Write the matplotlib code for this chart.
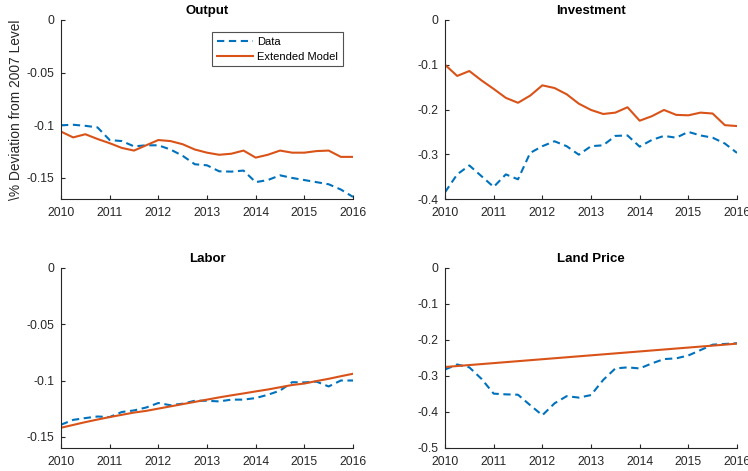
import numpy as np
import matplotlib.pyplot as plt
from matplotlib.ticker import FuncFormatter

plt.rcParams['font.family'] = ['Liberation Sans', 'DejaVu Sans']

# quarterly dates 2010Q1..2016Q1
quarters = [2010 + 0.25 * i for i in range(25)]
years = [2010, 2011, 2012, 2013, 2014, 2015, 2016]

output_data = [-0.100, -0.0995, -0.1005, -0.102, -0.114, -0.115, -0.120, -0.119, -0.119,
               -0.123, -0.129, -0.137, -0.138, -0.1437, -0.144, -0.143, -0.154, -0.152,
               -0.1475, -0.150, -0.152, -0.154, -0.156, -0.161, -0.168]
output_model = [-0.106, -0.1115, -0.1085, -0.113, -0.117, -0.1215, -0.124, -0.119, -0.114,
                -0.115, -0.118, -0.123, -0.126, -0.128, -0.127, -0.124, -0.1307, -0.128,
                -0.124, -0.126, -0.126, -0.1245, -0.124, -0.130, -0.130]

invest_data = [-0.385, -0.345, -0.325, -0.349, -0.373, -0.345, -0.356, -0.297, -0.282,
               -0.271, -0.282, -0.301, -0.282, -0.280, -0.259, -0.258, -0.283, -0.268,
               -0.259, -0.263, -0.250, -0.258, -0.263, -0.276, -0.297]
invest_model = [-0.100, -0.125, -0.114, -0.135, -0.154, -0.174, -0.185, -0.169, -0.146,
                -0.152, -0.166, -0.187, -0.201, -0.210, -0.207, -0.195, -0.225, -0.215,
                -0.201, -0.212, -0.213, -0.207, -0.209, -0.235, -0.237]

labor_data = [-0.1393, -0.135, -0.1334, -0.132, -0.1325, -0.128, -0.1266, -0.124, -0.120,
              -0.122, -0.1206, -0.118, -0.118, -0.1186, -0.117, -0.117, -0.1156, -0.1127,
              -0.109, -0.1015, -0.1017, -0.101, -0.1053, -0.100, -0.100]
labor_model = [-0.142, -0.1395, -0.137, -0.1347, -0.1325, -0.1305, -0.1285, -0.127, -0.125,
               -0.123, -0.121, -0.119, -0.117, -0.115, -0.1132, -0.1115, -0.1097, -0.108,
               -0.106, -0.104, -0.1027, -0.1005, -0.0985, -0.0962, -0.094]

land_data = [-0.282, -0.268, -0.276, -0.308, -0.349, -0.351, -0.352, -0.381, -0.409,
             -0.376, -0.356, -0.360, -0.353, -0.311, -0.279, -0.276, -0.279, -0.265,
             -0.253, -0.251, -0.243, -0.228, -0.213, -0.211, -0.209]
land_model = [-0.275, -0.2723, -0.2696, -0.2669, -0.2642, -0.2615, -0.2588, -0.2561, -0.2534,
              -0.2507, -0.248, -0.2453, -0.2426, -0.2399, -0.2372, -0.2345, -0.2318, -0.2291,
              -0.2264, -0.2237, -0.221, -0.2183, -0.2156, -0.2129, -0.210]

blue = '#0072BD'
orange = '#D95319'
gray = '#262626'

fig = plt.figure(figsize=(7.48, 4.71), dpi=100)

panels = [
    ("Output", output_data, output_model, (-0.17, 0), [0, -0.05, -0.1, -0.15], [61, 20, 292, 179]),
    ("Investment", invest_data, invest_model, (-0.4, 0), [0, -0.1, -0.2, -0.3, -0.4], [445, 20, 292, 179]),
    ("Labor", labor_data, labor_model, (-0.16, 0), [0, -0.05, -0.1, -0.15], [61, 268, 292, 180]),
    ("Land Price", land_data, land_model, (-0.5, 0), [0, -0.1, -0.2, -0.3, -0.4, -0.5], [445, 268, 292, 180]),
]

W, H = 748, 471
for i, (title, data, model, ylim, yt, pos) in enumerate(panels):
    x0, y0, w, h = pos
    ax = fig.add_axes([x0 / W, 1 - (y0 + h) / H, w / W, h / H])
    ax.plot(quarters, data, color=blue, lw=1.5, ls='--', dashes=(3.5, 2.2), label='Data')
    ax.plot(quarters, model, color=orange, lw=1.5, label='Extended Model')
    ax.set_xlim(2010, 2016)
    ax.set_ylim(*ylim)
    ax.set_xticks(years)
    ax.set_yticks(yt)
    ax.yaxis.set_major_formatter(FuncFormatter(lambda v, p: ('%g' % v).replace('\u2212', '-')))
    ax.spines['top'].set_visible(False)
    ax.spines['right'].set_visible(False)
    for s in ('left', 'bottom'):
        ax.spines[s].set_color(gray)
        ax.spines[s].set_linewidth(0.8)
    ax.tick_params(direction='in', length=3, width=0.8, colors=gray, labelsize=8.7)
    ax.tick_params(axis='x', pad=5.5)
    ax.tick_params(axis='y', pad=5)
    ax.set_title(title, fontsize=9.5, fontweight='bold', pad=4)
    if i == 0:
        ax.set_ylabel('\\% Deviation from 2007 Level', fontsize=9.9, color=gray)
        ax.yaxis.set_label_coords(-0.13, 0.5)
        ax.legend(loc='upper left', bbox_to_anchor=(0.517, 0.933), fontsize=8, frameon=True,
                  fancybox=False, edgecolor=gray, borderpad=0.42, handlelength=3.3,
                  handletextpad=0.35, labelspacing=0.45, borderaxespad=0).get_frame().set_linewidth(0.8)

fig.savefig('out.png', dpi=100)
